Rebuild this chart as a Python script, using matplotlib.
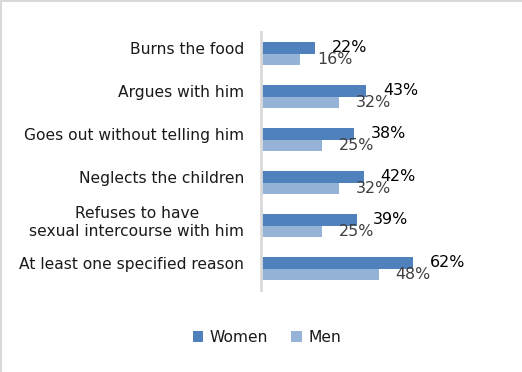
import matplotlib
matplotlib.use("Agg")
import matplotlib.pyplot as plt
from matplotlib.patches import Rectangle
import numpy as np

categories = [
    "Burns the food",
    "Argues with him",
    "Goes out without telling him",
    "Neglects the children",
    "Refuses to have\nsexual intercourse with him",
    "At least one specified reason",
]
women = [22, 43, 38, 42, 39, 62]
men = [16, 32, 25, 32, 25, 48]

women_color = "#4F81BD"
men_color = "#95B3D7"
grid_color = "#D9D9D9"

plt.rcParams["font.family"] = ["DejaVu Sans"]

W, H = 522, 372
fig = plt.figure(figsize=(W / 100, H / 100), dpi=100)
fig.patch.set_facecolor("white")

ax = fig.add_axes([261 / W, 1 - 290 / H, 245 / W, 258 / H])
y = np.arange(len(categories))
bh = 0.256

ax.barh(y - bh / 2, women, height=bh, color=women_color, label="Women")
ax.barh(y + bh / 2, men, height=bh, color=men_color, label="Men")

for yi, v in zip(y, women):
    ax.annotate(f"{v}%", (v, yi - bh / 2), xytext=(12, 0), textcoords="offset points",
                ha="left", va="center", fontsize=11.4, color="#000000")
for yi, v in zip(y, men):
    ax.annotate(f"{v}%", (v, yi + bh / 2), xytext=(12, 0), textcoords="offset points",
                ha="left", va="center", fontsize=11.4, color="#404040")

ax.set_xlim(0, 100)
ax.set_ylim(len(categories) - 0.5, -0.5)
ax.set_xticks([])
ax.set_yticks(y - bh / 2)
ax.set_yticklabels(categories, fontsize=11.2, color="#1a1a1a")
for lbl in ax.get_yticklabels():
    lbl.set_multialignment("center")
ax.tick_params(axis="y", length=0, pad=12)
for s in ["top", "right", "bottom"]:
    ax.spines[s].set_visible(False)
ax.spines["left"].set_color(grid_color)
ax.spines["left"].set_linewidth(2)
ax.set_facecolor("none")

leg = fig.legend(loc="center", bbox_to_anchor=(267 / W, 1 - 337 / H), ncol=2,
                 frameon=False, fontsize=11.2, handlelength=0.7, handleheight=0.7,
                 handletextpad=0.4, columnspacing=1.5)
for t in leg.get_texts():
    t.set_color("#1a1a1a")

# chart frame edges
fig.add_artist(Rectangle((0, 1 - 2 / H), 1, 2 / H, transform=fig.transFigure,
                         color=grid_color, lw=0))
fig.add_artist(Rectangle((0, 0), 2 / W, 1, transform=fig.transFigure,
                         color=grid_color, lw=0))

fig.savefig("out.png", dpi=100, facecolor="white")
